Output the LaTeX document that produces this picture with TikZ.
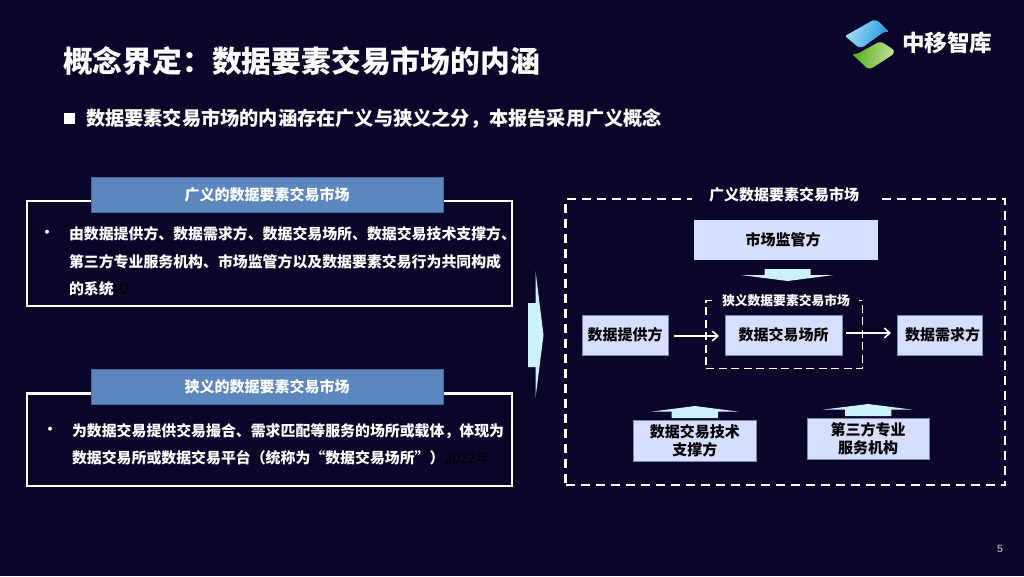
\documentclass[tikz,border=0pt]{standalone}
\usepackage{fontspec}
\setmainfont{Noto Sans CJK SC}
\newfontfamily\numfont{Liberation Sans}
\usetikzlibrary{arrows.meta}
\definecolor{bg}{HTML}{0A0529}
\definecolor{headblue}{HTML}{5B87BE}
\definecolor{headedge}{HTML}{41689C}
\definecolor{pale}{HTML}{D6DFFF}
\definecolor{paleedge}{HTML}{7888AC}
\definecolor{ice}{HTML}{CCF2FF}
\definecolor{logoa}{HTML}{A4E2F8}
\definecolor{logob}{HTML}{2294DA}
\definecolor{logoc}{HTML}{5AAC18}
\definecolor{logod}{HTML}{BEE49A}
\newcommand{\fs}[2]{\fontsize{#1}{#2}\selectfont\bfseries}
\tikzset{
  x=1pt,y=-1pt,
  every node/.style={inner sep=0pt,outer sep=0pt},
  whitebox/.style={draw=white,line width=2.4pt,anchor=north west},
  headbox/.style={draw=headedge,line width=1pt,fill=headblue,text=white,minimum width=352pt,minimum height=34.5pt,font=\fs{15}{18}},
  bodytext/.style={anchor=west,align=left,text=white,font=\fs{14.9}{27.5}},
  bulletmark/.style={anchor=center,text=white,font=\fs{14}{16}},
  outerdash/.style={draw=white,line width=2.6pt,dash pattern=on 9pt off 6pt,anchor=north west},
  innerdash/.style={draw=white,line width=1.8pt,dash pattern=on 8pt off 4.5pt,anchor=north west},
  gaptitle/.style={fill=bg,text=white,minimum height=14pt},
  partybox/.style={draw=paleedge,line width=.6pt,fill=pale,text=black,align=center,font=\fs{15}{17.5}},
  flow/.style={draw=white,line width=1.6pt,-{Straight Barb[length=5.5pt,width=10pt,line width=1.6pt]}},
  blockarrow/.style={fill=ice},
}
\begin{document}
\begin{tikzpicture}
\useasboundingbox (0,0) rectangle (1024,576);
\fill[bg] (0,0) rectangle (1024,576);

% title
\node[anchor=west,text=white,font=\fs{29.8}{34}] (title) at (63,61) {概念界定：数据要素交易市场的内涵};
\fill[white] (64,113) rectangle (75,124);
\node[anchor=west,text=white,font=\fs{19.2}{23}] (sub) at (86,118.5) {数据要素交易市场的内涵存在广义与狭义之分，本报告采用广义概念};

% logo
\shade[left color=logoa,right color=logob,shading angle=70,rounded corners=1.2pt]
  (845,36) -- (873.3,20) -- (878,21) -- (889,31.7) -- (883.3,32.3) -- (862.7,47.3) -- (858,47) -- cycle;
\shade[left color=logoc,right color=logod,shading angle=80,rounded corners=1.2pt]
  (852.3,54.3) -- (858.3,53.3) -- (878.3,42.3) -- (882.3,42.3) -- (894,50) -- (893.3,54.3) -- (871.7,68.3) -- (867.3,68.3) -- cycle;
\node[anchor=west,text=white,font=\fs{22.6}{26}] (logotext) at (902,43) {中移智库};

% left boxes
\node[whitebox,minimum width=485pt,minimum height=105pt] (broad) at (27,201) {};
\node[headbox] (broadhead) at (267,195) {广义的数据要素交易市场};
\node[bulletmark] (b1) at (47,234) {•};
\node[bodytext] (broadtext) at (69,261.5) {由数据提供方、数据需求方、数据交易场所、数据交易技术支撑方、\\第三方专业服务机构、市场监管方以及数据要素交易行为共同构成\\的系统{\color{black}\mdseries 02}};

\node[whitebox,minimum width=485pt,minimum height=92.5pt] (narrow) at (27,393.5) {};
\node[headbox] (narrowhead) at (267,387) {狭义的数据要素交易市场};
\node[bulletmark] (b2) at (50,431) {•};
\node[bodytext] (narrowtext) at (72,444.5) {为数据交易提供交易撮合、需求匹配等服务的场所或载体，体现为\\数据交易所或数据交易平台（统称为“数据交易场所”）{\color{black}\mdseries\fontsize{14}{27.5}\selectfont 2022年}};

% big arrow
\fill[blockarrow] (528,303) -- (535.5,303) -- (535.5,271) -- (543.5,335) -- (535.5,398) -- (535.5,367) -- (528,367) -- cycle;

% right panel
\node[outerdash,minimum width=439.5pt,minimum height=286pt] (wide) at (565.5,199) {};
\node[gaptitle,minimum width=184pt,font=\fs{15}{18}] (widetitle) at (784,195) {广义数据要素交易市场};

\node[partybox,minimum width=184pt,minimum height=40pt,draw=none] (reg) at (786,240) {市场监管方\kern6pt};
\fill[blockarrow] (764.7,269) -- (810.7,269) -- (810.7,275) -- (834,275) -- (787.5,281) -- (741,275) -- (764.7,275) -- cycle;

\node[innerdash,minimum width=156.5pt,minimum height=68pt] (core) at (706,300.5) {};
\node[gaptitle,minimum width=146pt,font=\fs{12.8}{15}] (coretitle) at (786,301) {狭义数据要素交易市场};

\node[partybox,minimum width=86pt,minimum height=40pt] (supply) at (625,335) {数据提供方};
\node[partybox,minimum width=117.5pt,minimum height=40pt] (venue) at (783.7,335) {数据交易场所};
\node[partybox,minimum width=85pt,minimum height=40pt] (demand) at (939.5,335) {\kern6pt数据需求方};
\draw[flow] ([xshift=6pt,yshift=-1pt]supply.east) -- ([xshift=-6pt,yshift=-1pt]venue.west);
\draw[flow] ([xshift=4pt,yshift=2pt]venue.east) -- ([xshift=-6pt,yshift=2pt]demand.west);

\fill[blockarrow] (671.7,418) -- (718,418) -- (718,411.7) -- (739,411.7) -- (695,406) -- (650.7,411.7) -- (671.7,411.7) -- cycle;
\fill[blockarrow] (845,416) -- (891.3,416) -- (891.3,409.7) -- (913,409.7) -- (868,404) -- (822.3,409.7) -- (845,409.7) -- cycle;
\node[partybox,minimum width=122.3pt,minimum height=40.3pt] (tech) at (694.9,440.8) {数据交易技术\\支撑方};
\node[partybox,minimum width=122.5pt,minimum height=40.3pt] (third) at (868.2,438.8) {第三方专业\\服务机构};

\node[text=white!85!bg,font=\numfont\fontsize{10.5}{12}\selectfont] (page) at (1000,549) {5};
\end{tikzpicture}
\end{document}
